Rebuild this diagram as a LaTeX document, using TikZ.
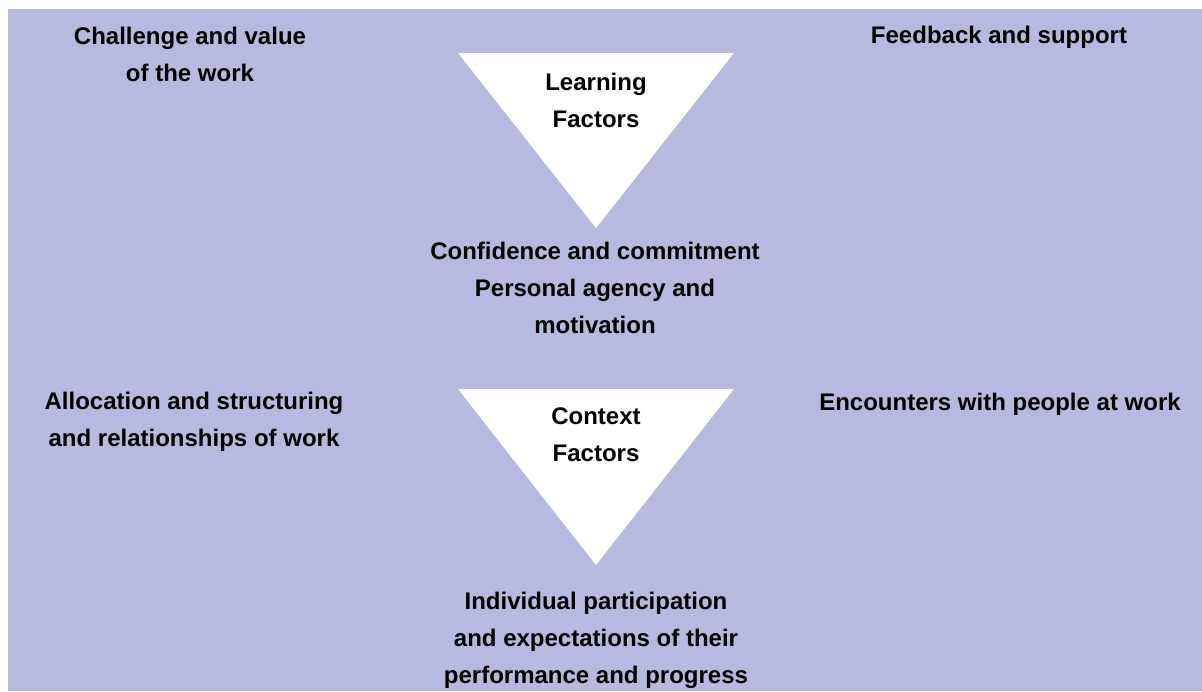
\documentclass[tikz,border=0pt]{standalone}
\usepackage{fontspec}
\setmainfont{Liberation Sans}
\usetikzlibrary{positioning}
\definecolor{lavender}{RGB}{183,185,223}
\tikzstyle{factor}=[%
      text=black, font=\bfseries\fontsize{24}{37}\selectfont, align=center, inner sep=0pt
]
\tikzstyle{funnel}=[%
      fill=white, draw=none
]

\begin{document}
\begin{tikzpicture}[x=1pt, y=-1pt]
    \useasboundingbox (0,0) rectangle (1202,691);
    \fill[lavender] (8,9) rectangle (1202,691);

    % the two funnels
    \fill[funnel] (458,53) -- (734,53) -- (596,228) -- cycle;
    \fill[funnel] (458,389) -- (734,389) -- (596,565) -- cycle;

    \node[factor] (learn)   at (596,100)  {Learning\\Factors};
    \node[factor] (conf)    at (595,288)  {Confidence and commitment\\Personal agency and\\motivation};
    \node[factor] (context) at (596,435)  {Context\\Factors};
    \node[factor] (indiv)   at (596,640)  {Individual participation\\and expectations of their\\performance and progress};

    \node[factor] (chall)   at (190,54)   {Challenge and value\\of the work};
    \node[factor] (feed)    at (999,37)   {Feedback and support};
    \node[factor] (alloc)   at (194,422)  {Allocation and structuring\\and relationships of work};
    \node[factor] (encount) at (1000,404) {Encounters with people at work};
\end{tikzpicture}
\end{document}
